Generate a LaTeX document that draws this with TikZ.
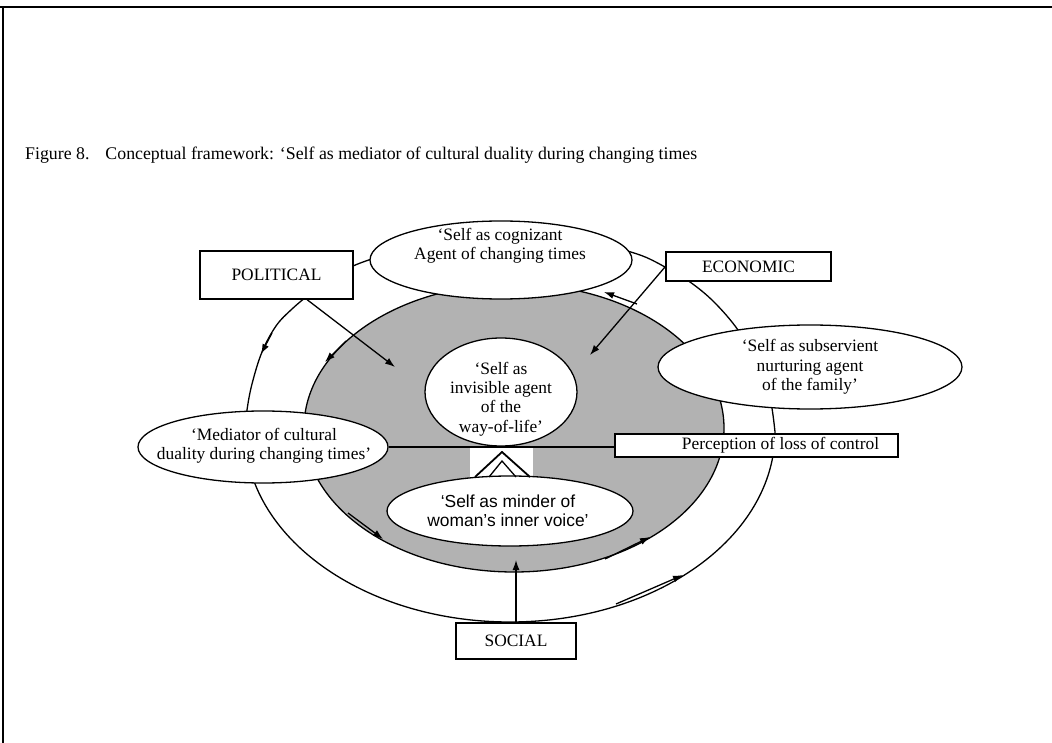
\documentclass[tikz,border=0pt]{standalone}
\usepackage{fontspec}
\setmainfont{Liberation Serif}
\newfontfamily\sansf{Liberation Sans}
\usetikzlibrary{arrows.meta,shapes.geometric,calc}
\definecolor{stip}{gray}{0.70}
\begin{document}
\begin{tikzpicture}[x=1pt,y=-1pt,
  every node/.style={inner sep=0pt},
  lbl/.style={font=\fontsize{17.4}{19.5}\selectfont, align=center},
  bubble/.style={ellipse, draw, fill=white, line width=1.3pt},
  box/.style={rectangle, draw, fill=white, line width=1.2pt, font=\fontsize{17.4}{19.5}\selectfont},
  arr/.style={line width=1.3pt, -{Latex[length=10pt,width=7pt]}},
  edge/.style={line width=1.3pt}
]
\useasboundingbox (0,0) rectangle (1052,743);
\draw[line width=1.6pt] (0,7) -- (1052,7);
\draw[line width=1.6pt] (3,7) -- (3,743);

\node[anchor=base west, font=\fontsize{17.8}{20}\selectfont] (title) at (25,160)
  {Figure 8.\hspace{0.9em}Conceptual framework: ‘Self as mediator of cultural duality during changing times};

% outer ring: lower half elliptical, upper half flatter
\draw[edge] (775,432) arc[start angle=0, end angle=-180, x radius=265pt, y radius=190pt]
  plot[smooth, tension=0.6] coordinates {(245,432) (247,410) (252,384) (262,352) (276,326) (292,309) (310,294) (330,280) (353,266) (390,254) (440,246) (500,242) (560,243) (608,247) (640,255) (665,267) (690,282) (714,302) (738,330) (758,364) (770,398) (775,432)};

% shaded ring
\fill[stip] (514,428) ellipse [x radius=210pt, y radius=144pt];
\draw[edge] (514,428) ellipse [x radius=210pt, y radius=144pt];
\fill[white] (470,448) rectangle (533,477);

% ellipses
\node[bubble, minimum width=262pt, minimum height=78pt] (cog) at (501,260) {};
\node[lbl] (cogt) at (500,246) {‘Self as cognizant\\Agent of changing times};

\node[bubble, minimum width=304pt, minimum height=84pt] (sub) at (810,367) {};
\node[lbl] (subt) at (810,367) {‘Self as subservient\\nurturing agent\\of the family’};

\node[bubble, minimum width=250pt, minimum height=72pt] (med) at (263,447) {};
\node[lbl] (medt) at (264,446) {‘Mediator of cultural\\duality during changing times’};

\node[bubble, minimum width=152pt, minimum height=108pt] (inv) at (501,392) {};
\node[lbl] (invt) at (501,399) {‘Self as\\invisible agent\\of the\\way-of-life’};

\node[bubble, minimum width=246pt, minimum height=70pt] (mind) at (510,511) {};
\node[lbl, font=\sansf\fontsize{17.4}{19.5}\selectfont] (mindt) at (508,511) {‘Self as minder of\\woman’s inner voice’};

% boxes
\node[box, minimum width=153pt, minimum height=48pt] (pol) at (276.5,275) {POLITICAL};
\node[box, minimum width=165pt, minimum height=29pt] (eco) at (748.5,266.5) {ECONOMIC};
\node[box, minimum width=283pt, minimum height=23pt] (per) at (756.5,445.5) {\hspace*{48pt}Perception of loss of control};
\node[box, minimum width=120pt, minimum height=36pt] (soc) at (516,641) {SOCIAL};

% connectors
\draw[edge] (med.east) -- (med.east -| per.west);

% double triangle
\draw[line width=1.8pt, line join=miter] (475,477) -- (502,452) -- (530,477);
\draw[line width=1.3pt, line join=miter] (489,477) -- (502,461) -- (516,477);

% arrows
\coordinate (polTip) at (395,367);
\coordinate (ecoTip) at (590,355);
\coordinate (socTip) at (516,560);
\draw[arr] ([xshift=30.5pt]pol.south) -- (polTip);
\draw[arr] (eco.west) -- (ecoTip);
\draw[arr] (soc.north) -- (socTip);

\draw[arr] (272,333) -- (261,354);
\draw[arr] (346,341) -- (325,362);
\draw[arr] (637,304) -- (604,292);
\draw[arr] (348,513) -- (383,539);
\draw[arr] (605,559) -- (650,537);
\draw[arr] (616,604) -- (683,575);
\end{tikzpicture}
\end{document}
